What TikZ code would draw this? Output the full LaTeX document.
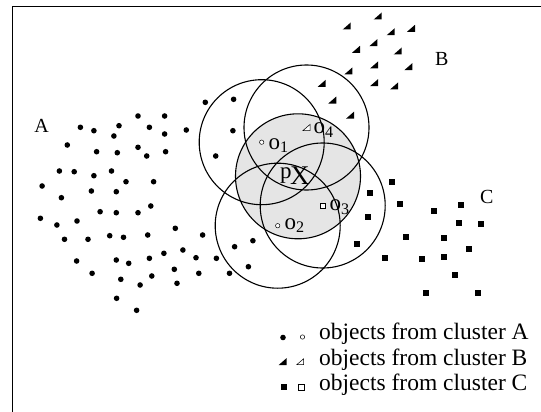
\documentclass[tikz,border=0pt]{standalone}
\usepackage{fontspec}
\setmainfont{Liberation Serif}
\tikzset{
  adot/.style={circle, fill=black, inner sep=0pt, minimum size=5.6pt},
  aopen/.style={circle, draw=black, fill=white, line width=0.5pt, inner sep=0pt, minimum size=4.4pt},
  csq/.style={rectangle, fill=black, inner sep=0pt, minimum size=6pt},
  copen/.style={rectangle, draw=black, fill=white, line width=0.6pt, inner sep=0pt, minimum size=5.2pt},
  btri/.pic={\fill (-4,3.5) -- (4,3.5) -- (4,-3.5) -- cycle;},
  bopen/.pic={\draw[line width=0.5pt, fill=white] (-3.5,3) -- (3.5,3) -- (3.5,-3) -- cycle;},
  ring/.style={line width=1.1pt},
  clabel/.style={inner sep=0pt, font=\fontsize{20}{24}\selectfont},
  olabel/.style={inner sep=0pt, anchor=base west, font=\fontsize{23}{27}\selectfont},
  legtext/.style={inner sep=0pt, anchor=base west, font=\fontsize{23.5}{27}\selectfont},
}
\begin{document}
\begin{tikzpicture}[x=1pt, y=-1pt]
\useasboundingbox (0,0) rectangle (541,412);
\fill[white] (0,0) rectangle (541,412);
% frame
\draw[line width=1pt] (12.5,412) -- (12.5,7) -- (541,7);
% centres
\coordinate (cp) at (298,176.3);
\coordinate (c1) at (261.7,142.2);
\coordinate (c2) at (277.7,225.7);
\coordinate (c3) at (322.7,205.5);
\coordinate (c4) at (306.5,127.5);
% neighbourhoods
\fill[gray!20] (cp) circle[radius=62.5];
\draw[ring] (cp) circle[radius=62.5];
\draw[ring] (c1) circle[radius=62.5];
\draw[ring] (c2) circle[radius=62.5];
\draw[ring] (c3) circle[radius=62.5];
\draw[ring] (c4) circle[radius=62.5];
% cluster A
\foreach \x/\y [count=\i] in {138/116,164.6/116,80.4/127.3,93.9/130.7,119/125.7,113.9/136,149.4/127.3,164.6/134,186.3/130,67.3/145,96.6/151.7,117.3/152.7,138/147.3,146.7/156,165.6/151.7,59.4/171,74.2/171.7,93.9/175.7,111.5/171,126/181.7,153.6/181.7,42.1/186,61.4/197.7,91.4/191,116.3/191.7,100.1/211.7,116.3/212.7,138/212.7,150.8/206,40.4/218.3,56.9/225,77/221,64.5/239.3,88/239.3,109.7/235.7,123.5/237.3,147.7/235,175.3/228.3,202.6/235,76.6/261,116.3/260,128.7/263.3,149.4/258.3,163.9/253.3,182.9/250,196/257.7,216.4/258.3,92.1/273.3,120.8/279.3,140.1/285,151.8/276,174.3/269.3,177/283.3,198.8/273.3,229.5/273.3,116.6/298.3,136.6/310.3,205.3/102.3,233.6/99.3,232.9/130.7,215.7/156,234.6/246.7,252.9/240.7,248.4/266.7}
  \node[adot] (a\i) at (\x,\y) {};
% cluster B
\foreach \x/\y in {377.7/16,346.7/26,390.7/31.7,411/28.3,356/49.3,373.3/42.7,397.7/51,348.3/71,374/65,408.3/66.7,321.7/83.3,374/82.7,394/86,332.3/100,350.2/115}
  \pic at (\x,\y) {btri};
% cluster C
\foreach \x/\y [count=\i] in {392.3/181.7,369.9/192.7,400.3/204,367.5/217.3,356.5/244,406.1/236.7,384.7/257.7,433.8/211,460.7/205,458.9/222.7,480.7/224.3,444.4/237.7,469.3/249.3,421.7/259.3,444.4/257.3,454.8/275,426.2/292.7,477.9/292.7}
  \node[csq] (s\i) at (\x,\y) {};
% objects o1..o4 and p
\node[aopen] (o1) at (c1) {};
\node[aopen] (o2) at (c2) {};
\node[copen] (o3) at (c3) {};
\pic at (c4) {bopen};
\node[olabel] (lo1) at (268.5,149) {o\textsubscript{1}};
\node[olabel] (lo4) at (313.5,133.5) {o\textsubscript{4}};
\node[olabel] (lo2) at (284.5,229) {o\textsubscript{2}};
\node[olabel] (lo3) at (329.5,210.7) {o\textsubscript{3}};
\node[olabel] (lp) at (280,178.5) {p\kern-1.5pt\raisebox{-6pt}{\fontsize{27}{31}\selectfont X}};
% cluster labels
\node[clabel] (la) at (41.7,126) {A};
\node[clabel] (lb) at (441.7,58.5) {B};
\node[clabel] (lc) at (486.7,197.3) {C};
% legend
\node[adot] (ka) at (283,337.5) {};
\node[aopen] (kao) at (302.5,337) {};
\pic at (282.5,361.7) {btri};
\pic at (300.2,361.7) {bopen};
\node[csq] (kc) at (283.6,387.3) {};
\node[copen] (kco) at (301.2,387.3) {};
\node[legtext] (ta) at (319,339.3) {objects from cluster A};
\node[legtext] (tb) at (319,365) {objects from cluster B};
\node[legtext] (tc) at (319,390) {objects from cluster C};
\end{tikzpicture}
\end{document}
